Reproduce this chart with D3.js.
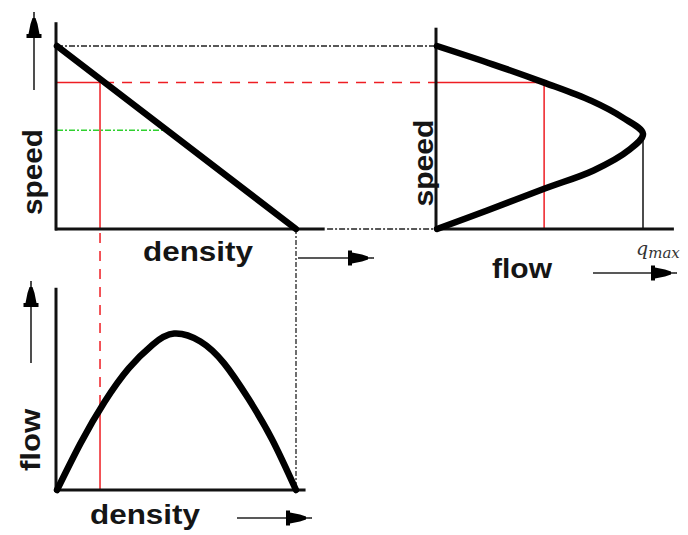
<!DOCTYPE html>
<html>
<head>
<meta charset="utf-8" />
<script src="https://cdn.jsdelivr.net/npm/d3@7/dist/d3.min.js"></script>
<style>
    body { margin: 0; background: #fff; }
    svg { display: block; }
    .lbl { font-family: "Liberation Sans", Arial, sans-serif; font-weight: bold; font-size: 28px; fill: #151515; }
    .math { font-family: "DejaVu Serif", serif; font-style: italic; fill: #333; }
</style>
</head>
<body>
<script>
    // all values normalised: jam density = 1, free speed = 1, capacity (q max) = 1

    // speed-density line (top left panel)
    var kdDensity = [0, 1];
    var kdSpeed = [1, 0];

    // flow-density curve
    var qkDensity = [0, 0.1, 0.2, 0.3, 0.4, 0.49, 0.6, 0.7, 0.8, 0.9, 1.0];
    var qkFlow    = [0, 0.30, 0.56, 0.77, 0.92, 0.99, 0.94, 0.80, 0.58, 0.32, 0];

    // speed-flow curve
    var vqSpeed = [1.0, 0.9, 0.80, 0.70, 0.61, 0.52, 0.43, 0.32, 0.22, 0.10, 0];
    var vqFlow  = [0, 0.27, 0.52, 0.75, 0.90, 1.0, 0.93, 0.76, 0.52, 0.24, 0];

    // red reference state and green speed level
    var refDensity = 0.18, refSpeed = 0.80, refFlow = 0.52;
    var greenSpeed = 0.54;

    var width = 688, height = 535;
    var red = "#ee1d23", green = "#2fd12f", ink = "#111";

    var svg = d3.select("body").append("svg")
        .attr("width", width)
        .attr("height", height);

    var xDen = d3.scaleLinear().domain([0, 1]).range([57, 296]);
    var ySpd = d3.scaleLinear().domain([0, 1]).range([229, 46]);
    var xFlow = d3.scaleLinear().domain([0, 1]).range([437, 643]);
    var yFlow = d3.scaleLinear().domain([0, 1]).range([490, 332]);

    function seg(x1, y1, x2, y2, color, w, dash) {
        var l = svg.append("line")
            .attr("x1", x1).attr("y1", y1)
            .attr("x2", x2).attr("y2", y2)
            .attr("stroke", color)
            .attr("stroke-width", w);
        if (dash) l.attr("stroke-dasharray", dash);
        return l;
    }

    var dashDot = "6,2,2,2";

    // guide lines between panels (drawn first, under the curves)
    seg(xDen(0), ySpd(1), xFlow(0), ySpd(1), "#222", 1.5, dashDot);
    seg(xDen(1.13), ySpd(0), xFlow(0), ySpd(0), "#222", 1.5, dashDot);
    seg(xDen(1), ySpd(0), xDen(1), yFlow(0), "#222", 1.3, "5,2,2,2");

    // red reference state
    seg(xDen(0), ySpd(refSpeed), xDen(refDensity), ySpd(refSpeed), red, 1.5);
    seg(xDen(refDensity) + 4, ySpd(refSpeed), xFlow(0), ySpd(refSpeed), red, 1.5, "10,8");
    seg(xFlow(0), ySpd(refSpeed), xFlow(refFlow), ySpd(refSpeed), red, 1.5);
    seg(xFlow(refFlow), ySpd(refSpeed), xFlow(refFlow), ySpd(0), red, 1.5);
    seg(xDen(refDensity), ySpd(refSpeed), xDen(refDensity), ySpd(0), red, 1.5);
    seg(xDen(refDensity), ySpd(0) + 4, xDen(refDensity), yFlow(refFlow), red, 1.5, "10,8");
    seg(xDen(refDensity), yFlow(refFlow), xDen(refDensity), yFlow(0), red, 1.5);

    // green speed level up to the speed-density line
    var denAtSpeed = d3.scaleLinear().domain(kdSpeed).range(kdDensity);
    seg(xDen(0), ySpd(greenSpeed), xDen(denAtSpeed(greenSpeed)), ySpd(greenSpeed), green, 1.5, dashDot);

    // q max drop line
    var tipSpeed = vqSpeed[vqFlow.indexOf(d3.max(vqFlow))];
    seg(xFlow(1), ySpd(tipSpeed), xFlow(1), ySpd(0), ink, 1.5);

    // axes
    var axisW = 3;
    seg(xDen(0) - 1, ySpd(1.13), xDen(0) - 1, ySpd(0) + 1.5, ink, axisW);
    seg(xDen(0) - 2, ySpd(0), xDen(1.12), ySpd(0), ink, axisW);
    seg(xFlow(0) - 1, ySpd(1.1), xFlow(0) - 1, ySpd(0) + 1.5, ink, axisW);
    seg(xFlow(0) - 2, ySpd(0), xFlow(1.15), ySpd(0), ink, axisW);
    seg(xDen(0) - 1, yFlow(1.28), xDen(0) - 1, yFlow(0) + 1.5, ink, axisW);
    seg(xDen(0) - 3, yFlow(0), xDen(1.04), yFlow(0), ink, axisW);

    // curves
    var kdLine = d3.line()
        .x(function(d) { return xDen(d[0]); })
        .y(function(d) { return ySpd(d[1]); });
    svg.append("path")
        .datum(d3.zip(kdDensity, kdSpeed))
        .attr("d", kdLine)
        .attr("fill", "none")
        .attr("stroke", "#000")
        .attr("stroke-width", 6.5)
        .attr("stroke-linecap", "round");

    var qkLine = d3.line()
        .curve(d3.curveNatural)
        .x(function(d) { return xDen(d[0]); })
        .y(function(d) { return yFlow(d[1]); });
    svg.append("path")
        .datum(d3.zip(qkDensity, qkFlow))
        .attr("d", qkLine)
        .attr("fill", "none")
        .attr("stroke", "#000")
        .attr("stroke-width", 6.5)
        .attr("stroke-linecap", "round")
        .attr("stroke-linejoin", "round");

    var vqLine = d3.line()
        .curve(d3.curveCatmullRom)
        .x(function(d) { return xFlow(d[1]); })
        .y(function(d) { return ySpd(d[0]); });
    svg.append("path")
        .datum(d3.zip(vqSpeed, vqFlow))
        .attr("d", vqLine)
        .attr("fill", "none")
        .attr("stroke", "#000")
        .attr("stroke-width", 6.5)
        .attr("stroke-linecap", "round")
        .attr("stroke-linejoin", "round");

    // arrows
    function arrow(x1, y1, x2, y2) {
        seg(x1, y1, x2, y2, "#222", 1.6);
        var ang = Math.atan2(y2 - y1, x2 - x1) * 180 / Math.PI;
        var g = svg.append("g")
            .attr("transform", "translate(" + x2 + "," + y2 + ") rotate(" + ang + ")");
        g.append("path")
            .attr("d", "M-26,-7.5 L-22,-7.5 L-22,-5.5 L-12,-3.5 L-6,-1.5 L-6,1.5 L-12,3.5 L-22,5.5 L-22,7.5 L-26,7.5 Z")
            .attr("fill", "#000");
        g.append("line")
            .attr("x1", -6).attr("x2", 0)
            .attr("stroke", "#444")
            .attr("stroke-width", 1.2)
            .attr("stroke-dasharray", "1.5,1");
    }
    arrow(34, 90, 34, 12);
    arrow(298, 258, 374, 258);
    arrow(593, 273, 677, 273);
    arrow(31, 363, 31, 281);
    arrow(237, 518, 312, 518);

    // labels
    function label(txt, x, y, len, rot) {
        var t = svg.append("text")
            .attr("class", "lbl")
            .attr("textLength", len)
            .attr("lengthAdjust", "spacingAndGlyphs")
            .text(txt);
        if (rot) {
            t.attr("text-anchor", "middle")
                .attr("transform", "translate(" + x + "," + y + ") rotate(-90)");
        } else {
            t.attr("x", x).attr("y", y);
        }
    }
    label("speed", 42, 172, 86, true);
    label("speed", 433, 163, 87, true);
    label("flow", 40, 440, 62, true);
    label("density", 143, 261, 110);
    label("flow", 492, 278, 60);
    label("density", 90, 524, 110);

    var qm = svg.append("text").attr("class", "math").attr("x", 636).attr("y", 255);
    qm.append("tspan").attr("font-size", 19).text("q");
    qm.append("tspan").attr("font-size", 15).attr("dy", 3).text("max");
</script>
</body>
</html>
